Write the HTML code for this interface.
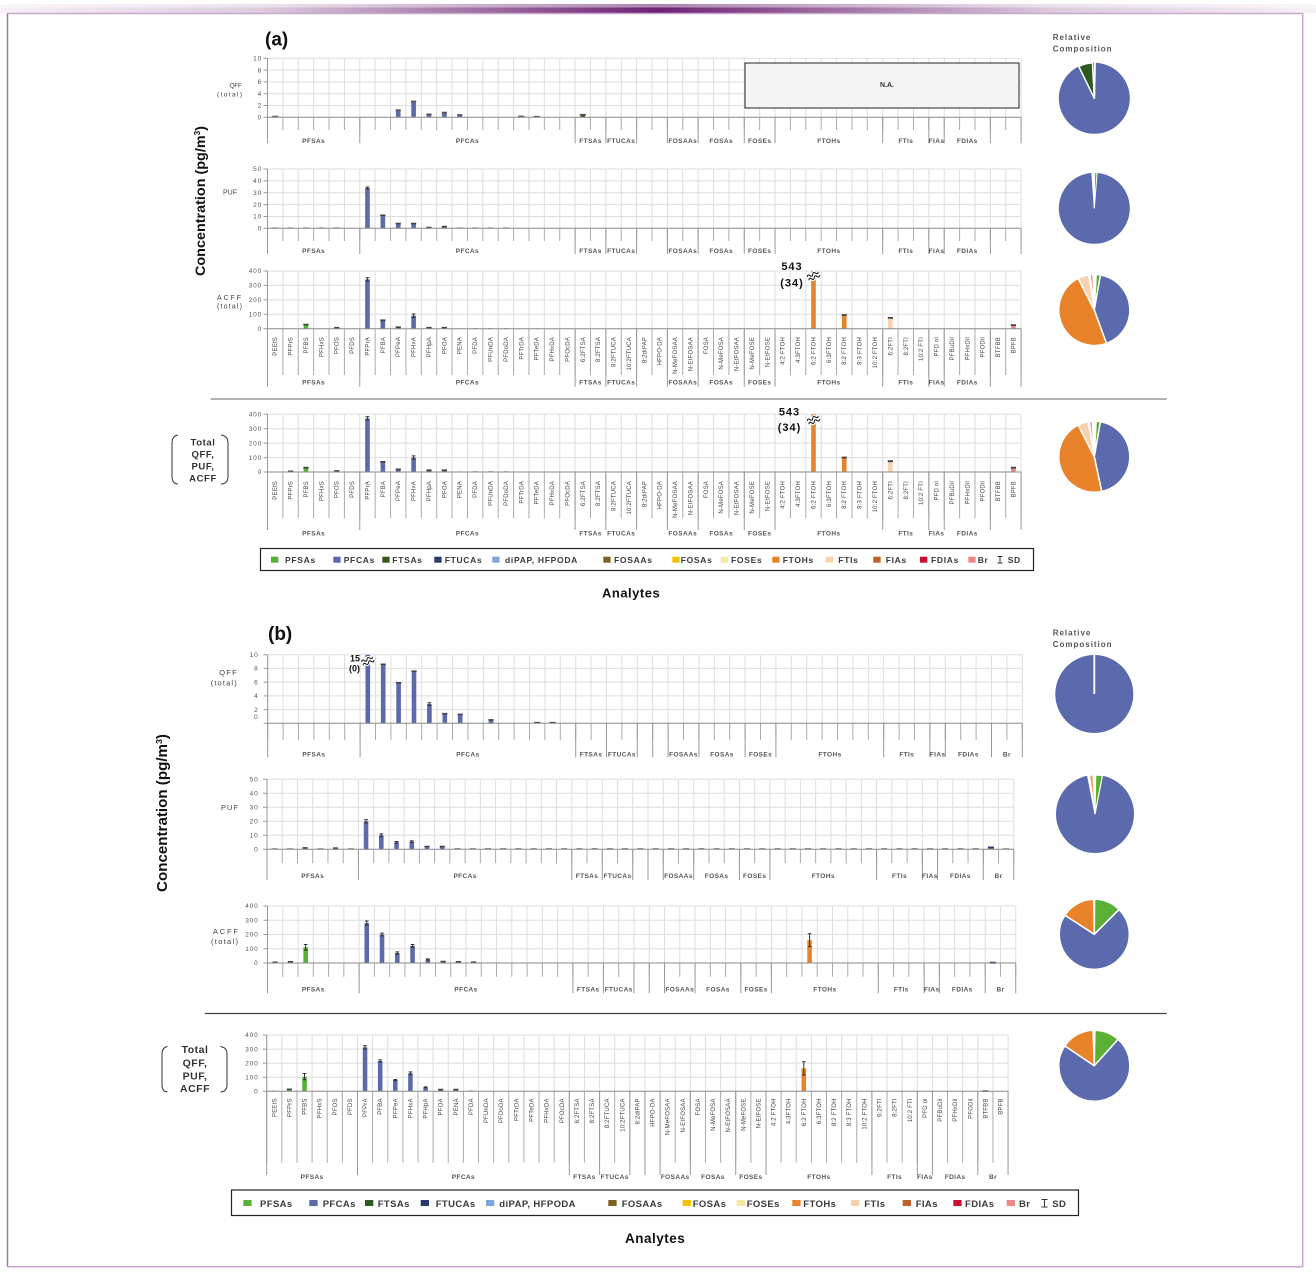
<!DOCTYPE html>
<html>
<head>
<meta charset="utf-8">
<style>
html,body{margin:0;padding:0;background:#fff;}
svg{display:block;}
</style>
</head>
<body>
<svg xmlns="http://www.w3.org/2000/svg" xmlns:xlink="http://www.w3.org/1999/xlink" width="1316" height="1278" viewBox="0 0 1316 1278" font-family="'Liberation Sans', sans-serif">
<defs>
<linearGradient id="tb" x1="0" y1="0" x2="1" y2="0">
<stop offset="0" stop-color="#f6f1f6"/><stop offset="0.2" stop-color="#dccbdd"/><stop offset="0.5" stop-color="#6d2372"/><stop offset="0.8" stop-color="#dccbdd"/><stop offset="1" stop-color="#f6f1f6"/>
</linearGradient>
<path id="ca" d="M0 0V1M6 0V1M20 0V1M22 0V1M24 0V1M26 0V1M28 0V1M31 0V1M33 0V1M40 0V1M43 0V1M44 0V1M47 0V1M49 0V1" vector-effect="non-scaling-stroke" stroke="#999" stroke-width="1" fill="none"/>
<path id="cb" d="M0 0V1M6 0V1M20 0V1M22 0V1M24 0V1M25 0V1M26 0V1M28 0V1M31 0V1M33 0V1M40 0V1M43 0V1M44 0V1M47 0V1M49 0V1" vector-effect="non-scaling-stroke" stroke="#999" stroke-width="1" fill="none"/>
</defs>
<rect x="0" y="0" width="1316" height="1278" fill="#fff"/>

<!-- top bar and frame -->
<rect x="0" y="4" width="1316" height="9.5" fill="url(#tb)"/>
<rect x="0" y="4" width="1316" height="3.5" fill="#fff" opacity="0.45"/>
<path d="M7.5 13.5H1302.7V1266.7H7.5" fill="none" stroke="#c8a8cc" stroke-width="1.5"/>
<path d="M7.5 13.5V1266.7" fill="none" stroke="#9a7a9e" stroke-width="1.5"/>

<!-- ===================== PANEL (a) ===================== -->
<text x="265" y="45.5" font-size="19" font-weight="bold" fill="#111">(a)</text>
<text transform="translate(205 201) rotate(-90)" text-anchor="middle" font-size="14" font-weight="bold" fill="#111" textLength="150" lengthAdjust="spacingAndGlyphs">Concentration (pg/m<tspan font-size="8" dy="-5">3</tspan><tspan dy="5">)</tspan></text>

<!-- A1 QFF -->
<line x1="267" y1="87.8" x2="1021.6" y2="87.8" stroke="#dedede" stroke-width="59" stroke-dasharray="1 14.38"/>
<path d="M267.5 58.3H1021.1M267.5 70.1H1021.1M267.5 81.9H1021.1M267.5 93.7H1021.1M267.5 105.5H1021.1" stroke="#dedede" fill="none"/>
<rect x="745" y="63" width="274" height="45" fill="#f4f4f4" stroke="#222" stroke-width="1"/>
<text x="887" y="87" text-anchor="middle" font-size="7" font-weight="bold" fill="#333">N.A.</text>
<g transform="translate(267.5 117.3) scale(15.38 -5.9)">
<g fill="#5b6aad"><rect x="8.35" width="0.3" height="1.2"/><rect x="9.35" width="0.3" height="2.7"/><rect x="10.35" width="0.3" height="0.5"/><rect x="11.35" width="0.3" height="0.8"/><rect x="12.35" width="0.3" height="0.4"/></g>
<rect x="20.35" width="0.3" height="0.45" fill="#2e5a1e"/>
<path d="M0.3 .12H.7M8.33 1.2H8.67M9.33 2.7H9.67M10.33 .5H10.67M11.33 .8H11.67M12.33 .4H12.67M16.3 .15H16.7M17.3 .1H17.7M20.3 .45H20.7" stroke="#555" stroke-width="1.6" fill="none" vector-effect="non-scaling-stroke"/>
</g>
<path d="M267.5 58.3V117.3M263.5 58.3H267.5M263.5 70.1H267.5M263.5 81.9H267.5M263.5 93.7H267.5M263.5 105.5H267.5M263.5 117.3H267.5" stroke="#999" fill="none"/>
<path d="M267.5 117.3H1021.1" stroke="#888" fill="none"/>
<line x1="267" y1="123.65" x2="1021.6" y2="123.65" stroke="#aaa" stroke-width="12.7" stroke-dasharray="1 14.38"/>
<use xlink:href="#ca" href="#ca" transform="translate(267.5 117.3) scale(15.38 26)"/>
<g text-anchor="end" font-size="6.5" fill="#555" letter-spacing=".8">
<text x="262" y="60.5">10</text><text x="262" y="72.3">8</text><text x="262" y="84.1">6</text><text x="262" y="95.9">4</text><text x="262" y="107.7">2</text><text x="262" y="119.5">0</text>
</g>
<g text-anchor="end" font-size="6.5" fill="#444">
<text x="242" y="87.5" textLength="12.5" lengthAdjust="spacing">QFF</text>
<text x="242" y="96.5" textLength="25" lengthAdjust="spacing">(total)</text>
</g>
<g text-anchor="middle" font-size="6.5" font-weight="bold" fill="#555" letter-spacing=".4">
<text x="313.6" y="143.2">PFSAs</text><text x="467.4" y="143.2">PFCAs</text><text x="590.5" y="143.2">FTSAs</text><text x="621.2" y="143.2">FTUCAs</text><text x="682.8" y="143.2">FOSAAs</text><text x="721.2" y="143.2">FOSAs</text><text x="759.7" y="143.2">FOSEs</text><text x="828.9" y="143.2">FTOHs</text><text x="905.8" y="143.2">FTIs</text><text x="936.5" y="143.2">FIAs</text><text x="967.3" y="143.2">FDIAs</text>
</g>

<!-- A2 PUF -->
<line x1="267" y1="198.65" x2="1021.6" y2="198.65" stroke="#dedede" stroke-width="59.3" stroke-dasharray="1 14.38"/>
<path d="M267.5 169H1021.1M267.5 180.86H1021.1M267.5 192.72H1021.1M267.5 204.58H1021.1M267.5 216.44H1021.1" stroke="#dedede" fill="none"/>
<g transform="translate(267.5 228.3) scale(15.38 -1.186)">
<g fill="#5b6aad"><rect x="6.35" width="0.3" height="34"/><rect x="7.35" width="0.3" height="11"/><rect x="8.35" width="0.3" height="4"/><rect x="9.35" width="0.3" height="4"/><rect x="10.35" width="0.3" height="0.6"/><rect x="11.35" width="0.3" height="1.5"/></g>
<path d="M6.38 34.8H6.62M6.5 34.8V33.2M6.38 33.2H6.62" stroke="#333" fill="none" vector-effect="non-scaling-stroke"/>
<path d="M7.33 11H7.67M8.33 4H8.67M9.33 4H9.67M10.33 .6H10.67M11.33 1.5H11.67" stroke="#444" stroke-width="1.6" fill="none" vector-effect="non-scaling-stroke"/>
<path d="M0.3 .3H.7M1.3 .3H1.7M2.3 .3H2.7M3.3 .3H3.7M4.3 .3H4.7M12.3 .3H12.7M13.3 .3H13.7M14.3 .3H14.7M15.3 .3H15.7" stroke="#888" stroke-width="1.2" fill="none" vector-effect="non-scaling-stroke"/>
</g>
<path d="M267.5 169V228.3M263.5 169H267.5M263.5 180.86H267.5M263.5 192.72H267.5M263.5 204.58H267.5M263.5 216.44H267.5M263.5 228.3H267.5" stroke="#999" fill="none"/>
<path d="M267.5 228.3H1021.1" stroke="#888" fill="none"/>
<line x1="267" y1="234.65" x2="1021.6" y2="234.65" stroke="#aaa" stroke-width="12.7" stroke-dasharray="1 14.38"/>
<use xlink:href="#ca" href="#ca" transform="translate(267.5 228.3) scale(15.38 25.7)"/>
<g text-anchor="end" font-size="6.5" fill="#555" letter-spacing=".8">
<text x="262" y="171.2">50</text><text x="262" y="183.1">40</text><text x="262" y="194.9">30</text><text x="262" y="206.8">20</text><text x="262" y="218.6">10</text><text x="262" y="230.5">0</text>
</g>
<text x="237" y="194.5" text-anchor="end" font-size="7" fill="#444" textLength="14" lengthAdjust="spacing">PUF</text>
<g text-anchor="middle" font-size="6.5" font-weight="bold" fill="#555" letter-spacing=".4">
<text x="313.6" y="253.2">PFSAs</text><text x="467.4" y="253.2">PFCAs</text><text x="590.5" y="253.2">FTSAs</text><text x="621.2" y="253.2">FTUCAs</text><text x="682.8" y="253.2">FOSAAs</text><text x="721.2" y="253.2">FOSAs</text><text x="759.7" y="253.2">FOSEs</text><text x="828.9" y="253.2">FTOHs</text><text x="905.8" y="253.2">FTIs</text><text x="936.5" y="253.2">FIAs</text><text x="967.3" y="253.2">FDIAs</text>
</g>

<!-- A3 ACFF -->
<line x1="267" y1="299.85" x2="1021.6" y2="299.85" stroke="#dedede" stroke-width="57.7" stroke-dasharray="1 14.38"/>
<path d="M267.5 271H1021.1M267.5 285.43H1021.1M267.5 299.85H1021.1M267.5 314.28H1021.1" stroke="#dedede" fill="none"/>
<g transform="translate(267.5 328.7) scale(15.38 -0.1443)">
<g fill="#5aaf35"><rect x="0.35" width="0.3" height="2"/><rect x="1.35" width="0.3" height="2"/><rect x="2.35" width="0.3" height="28"/><rect x="3.35" width="0.3" height="2"/><rect x="4.35" width="0.3" height="6"/></g>
<g fill="#5b6aad"><rect x="6.35" width="0.3" height="342"/><rect x="7.35" width="0.3" height="58"/><rect x="8.35" width="0.3" height="10"/><rect x="9.35" width="0.3" height="90"/><rect x="10.35" width="0.3" height="6"/><rect x="11.35" width="0.3" height="6"/><rect x="12.35" width="0.3" height="2"/><rect x="13.35" width="0.3" height="3"/><rect x="14.35" width="0.3" height="3"/><rect x="15.35" width="0.3" height="3"/></g>
<g fill="#a9b3dd"><rect x="16.35" width="0.3" height="2"/><rect x="17.35" width="0.3" height="2"/><rect x="18.35" width="0.3" height="2"/></g>
<g fill="#7ea6dc"><rect x="24.35" width="0.3" height="2"/><rect x="25.35" width="0.3" height="2"/></g>
<rect x="28.35" width="0.3" height="2" fill="#f2c300"/>
<g fill="#e8832a"><rect x="35.35" width="0.3" height="400"/><rect x="37.35" width="0.3" height="95"/></g>
<rect x="40.35" width="0.3" height="75" fill="#f8d2ae"/>
<rect x="48.35" width="0.3" height="25" fill="#ef8686"/>
<path d="M6.38 354H6.62M6.5 354V330M6.38 330H6.62M9.38 102H9.62M9.5 102V78M9.38 78H9.62" stroke="#333" fill="none" vector-effect="non-scaling-stroke"/>
<path d="M2.33 28H2.67M4.33 6H4.67M7.33 58H7.67M8.33 10H8.67M10.33 6H10.67M11.33 6H11.67M37.33 95H37.67M40.33 75H40.67M48.33 25H48.67" stroke="#444" stroke-width="1.8" fill="none" vector-effect="non-scaling-stroke"/>
</g>
<path d="M267.5 271V328.7M263.5 271H267.5M263.5 285.43H267.5M263.5 299.85H267.5M263.5 314.28H267.5M263.5 328.7H267.5" stroke="#999" fill="none"/>
<path d="M267.5 328.7H1021.1" stroke="#888" fill="none"/>
<line x1="267" y1="351.85" x2="1021.6" y2="351.85" stroke="#aaa" stroke-width="46.3" stroke-dasharray="1 14.38"/>
<use xlink:href="#ca" href="#ca" transform="translate(267.5 328.7) scale(15.38 58)"/>
<g transform="translate(813.5 276) rotate(-25)"><path d="M-6 -1.8q1.5 -2.5 3 0t3 0t3 0t3 0M-6 1.8q1.5 -2.5 3 0t3 0t3 0t3 0" stroke="#fff" stroke-width="3.2" fill="none"/><path d="M-6 -1.8q1.5 -2.5 3 0t3 0t3 0t3 0M-6 1.8q1.5 -2.5 3 0t3 0t3 0t3 0" stroke="#222" stroke-width="1.1" fill="none"/></g>
<g text-anchor="middle" font-size="11" font-weight="bold" fill="#111" letter-spacing="1">
<text x="792" y="270">543</text><text x="792" y="286.5">(34)</text>
</g>
<g text-anchor="end" font-size="6.5" fill="#555" letter-spacing=".8">
<text x="262" y="273.2">400</text><text x="262" y="287.6">300</text><text x="262" y="302">200</text><text x="262" y="316.5">100</text><text x="262" y="330.9">0</text>
</g>
<g text-anchor="end" font-size="7" fill="#444">
<text x="241" y="300" textLength="24" lengthAdjust="spacing">ACFF</text>
<text x="242" y="308.5" textLength="25" lengthAdjust="spacing">(total)</text>
</g>
<g transform="translate(277.2 337) rotate(-90)" text-anchor="end" font-size="6" fill="#444" letter-spacing=".2">
<text y="0">PEEtS</text><text y="15.38">PFPrS</text><text y="30.76">PFBS</text><text y="46.14">PFHxS</text><text y="61.52">PFOS</text><text y="76.9">PFDS</text><text y="92.28">PFPrA</text><text y="107.66">PFBA</text><text y="123.04">PFPeA</text><text y="138.42">PFHxA</text><text y="153.8">PFHpA</text><text y="169.18">PFOA</text><text y="184.56">PENA</text><text y="199.94">PFDA</text><text y="215.32">PFUnDA</text><text y="230.7">PFDoDA</text><text y="246.08">PFTrDA</text><text y="261.46">PFTeDA</text><text y="276.84">PFHxDA</text><text y="292.22">PFOcDA</text><text y="307.6">6:2FTSA</text><text y="322.98">8:2FTSA</text><text y="338.36">8:2FTUCA</text><text y="353.74">10:2FTUCA</text><text y="369.12">8:2diPAP</text><text y="384.5">HFPO-DA</text><text y="399.88">N-MeFOSAA</text><text y="415.26">N-EtFOSAA</text><text y="430.64">FOSA</text><text y="446.02">N-MeFOSA</text><text y="461.4">N-EtFOSAA</text><text y="476.78">N-MeFOSE</text><text y="492.16">N-EtFOSE</text><text y="507.54">4:2 FTOH</text><text y="522.92">4:3FTOH</text><text y="538.3">6:2 FTOH</text><text y="553.68">6:3FTOH</text><text y="569.06">8:2 FTOH</text><text y="584.44">8:3 FTOH</text><text y="599.82">10:2 FTOH</text><text y="615.2">6:2FTI</text><text y="630.58">8:2FTI</text><text y="645.96">10:2 FTI</text><text y="661.34">PFD ol</text><text y="676.72">PFBuDil</text><text y="692.1">PFHxDil</text><text y="707.48">PFODil</text><text y="722.86">BTFBB</text><text y="738.24">BPFB</text>
</g>
<g text-anchor="middle" font-size="6.5" font-weight="bold" fill="#555" letter-spacing=".4">
<text x="313.6" y="384.5">PFSAs</text><text x="467.4" y="384.5">PFCAs</text><text x="590.5" y="384.5">FTSAs</text><text x="621.2" y="384.5">FTUCAs</text><text x="682.8" y="384.5">FOSAAs</text><text x="721.2" y="384.5">FOSAs</text><text x="759.7" y="384.5">FOSEs</text><text x="828.9" y="384.5">FTOHs</text><text x="905.8" y="384.5">FTIs</text><text x="936.5" y="384.5">FIAs</text><text x="967.3" y="384.5">FDIAs</text>
</g>

<!-- separator a -->
<path d="M210.7 399H1166.7" stroke="#999" stroke-width="1.6" fill="none"/>

<!-- A4 Total -->
<line x1="267" y1="443.15" x2="1021.6" y2="443.15" stroke="#dedede" stroke-width="57.7" stroke-dasharray="1 14.38"/>
<path d="M267.5 414.3H1021.1M267.5 428.73H1021.1M267.5 443.15H1021.1M267.5 457.58H1021.1" stroke="#dedede" fill="none"/>
<g transform="translate(267.5 472) scale(15.38 -0.1443)">
<g fill="#5aaf35"><rect x="0.35" width="0.3" height="3"/><rect x="1.35" width="0.3" height="4"/><rect x="2.35" width="0.3" height="30"/><rect x="3.35" width="0.3" height="3"/><rect x="4.35" width="0.3" height="7"/></g>
<g fill="#5b6aad"><rect x="6.35" width="0.3" height="372"/><rect x="7.35" width="0.3" height="70"/><rect x="8.35" width="0.3" height="18"/><rect x="9.35" width="0.3" height="100"/><rect x="10.35" width="0.3" height="12"/><rect x="11.35" width="0.3" height="12"/><rect x="12.35" width="0.3" height="4"/><rect x="13.35" width="0.3" height="5"/><rect x="14.35" width="0.3" height="5"/><rect x="15.35" width="0.3" height="5"/></g>
<g fill="#a9b3dd"><rect x="16.35" width="0.3" height="3"/><rect x="17.35" width="0.3" height="3"/><rect x="18.35" width="0.3" height="3"/><rect x="19.35" width="0.3" height="3"/></g>
<rect x="20.35" width="0.3" height="3" fill="#2e5a1e"/>
<g fill="#7ea6dc"><rect x="24.35" width="0.3" height="3"/><rect x="25.35" width="0.3" height="3"/></g>
<rect x="28.35" width="0.3" height="3" fill="#f2c300"/>
<g fill="#e8832a"><rect x="35.35" width="0.3" height="400"/><rect x="37.35" width="0.3" height="100"/></g>
<rect x="40.35" width="0.3" height="75" fill="#f8d2ae"/>
<rect x="48.35" width="0.3" height="30" fill="#ef8686"/>
<path d="M6.38 384H6.62M6.5 384V360M6.38 360H6.62M9.38 112H9.62M9.5 112V88M9.38 88H9.62" stroke="#333" fill="none" vector-effect="non-scaling-stroke"/>
<path d="M1.33 4H1.67M2.33 30H2.67M4.33 7H4.67M7.33 70H7.67M8.33 18H8.67M10.33 12H10.67M11.33 12H11.67M37.33 100H37.67M40.33 75H40.67M48.33 30H48.67" stroke="#444" stroke-width="1.8" fill="none" vector-effect="non-scaling-stroke"/>
</g>
<path d="M267.5 414.3V472M263.5 414.3H267.5M263.5 428.73H267.5M263.5 443.15H267.5M263.5 457.58H267.5M263.5 472H267.5" stroke="#999" fill="none"/>
<path d="M267.5 472H1021.1" stroke="#888" fill="none"/>
<line x1="267" y1="495.15" x2="1021.6" y2="495.15" stroke="#aaa" stroke-width="46.3" stroke-dasharray="1 14.38"/>
<use xlink:href="#ca" href="#ca" transform="translate(267.5 472) scale(15.38 58)"/>
<g transform="translate(813.5 420) rotate(-25)"><path d="M-6 -1.8q1.5 -2.5 3 0t3 0t3 0t3 0M-6 1.8q1.5 -2.5 3 0t3 0t3 0t3 0" stroke="#fff" stroke-width="3.2" fill="none"/><path d="M-6 -1.8q1.5 -2.5 3 0t3 0t3 0t3 0M-6 1.8q1.5 -2.5 3 0t3 0t3 0t3 0" stroke="#222" stroke-width="1.1" fill="none"/></g>
<g text-anchor="middle" font-size="11" font-weight="bold" fill="#111" letter-spacing="1">
<text x="789.5" y="415.5">543</text><text x="789.5" y="431">(34)</text>
</g>
<g text-anchor="end" font-size="6.5" fill="#555" letter-spacing=".8">
<text x="262" y="416.5">400</text><text x="262" y="430.9">300</text><text x="262" y="445.4">200</text><text x="262" y="459.8">100</text><text x="262" y="474.2">0</text>
</g>
<g text-anchor="middle" font-size="9.5" font-weight="bold" fill="#333" letter-spacing=".6">
<text x="203" y="445.5">Total</text><text x="203" y="457.5">QFF,</text><text x="203" y="469.5">PUF,</text><text x="203" y="481.5">ACFF</text>
</g>
<path d="M178 435Q172 436 172 443V476Q172 484 178 484M221 435Q228 436 228 443V476Q228 484 221 484" stroke="#333" stroke-width="1" fill="none"/>
<g transform="translate(277.2 481) rotate(-90)" text-anchor="end" font-size="6" fill="#444" letter-spacing=".2">
<text y="0">PEEtS</text><text y="15.38">PFPrS</text><text y="30.76">PFBS</text><text y="46.14">PFHxS</text><text y="61.52">PFOS</text><text y="76.9">PFDS</text><text y="92.28">PFPrA</text><text y="107.66">PFBA</text><text y="123.04">PFPeA</text><text y="138.42">PFHxA</text><text y="153.8">PFHpA</text><text y="169.18">PFOA</text><text y="184.56">PENA</text><text y="199.94">PFDA</text><text y="215.32">PFUnDA</text><text y="230.7">PFDoDA</text><text y="246.08">PFTrDA</text><text y="261.46">PFTeDA</text><text y="276.84">PFHxDA</text><text y="292.22">PFOcDA</text><text y="307.6">6:2FTSA</text><text y="322.98">8:2FTSA</text><text y="338.36">8:2FTUCA</text><text y="353.74">10:2FTUCA</text><text y="369.12">8:2diPAP</text><text y="384.5">HFPO-DA</text><text y="399.88">N-MeFOSAA</text><text y="415.26">N-EtFOSAA</text><text y="430.64">FOSA</text><text y="446.02">N-MeFOSA</text><text y="461.4">N-EtFOSAA</text><text y="476.78">N-MeFOSE</text><text y="492.16">N-EtFOSE</text><text y="507.54">4:2 FTOH</text><text y="522.92">4:3FTOH</text><text y="538.3">6:2 FTOH</text><text y="553.68">6:3FTOH</text><text y="569.06">8:2 FTOH</text><text y="584.44">8:3 FTOH</text><text y="599.82">10:2 FTOH</text><text y="615.2">6:2FTI</text><text y="630.58">8:2FTI</text><text y="645.96">10:2 FTI</text><text y="661.34">PFD ol</text><text y="676.72">PFBuDil</text><text y="692.1">PFHxDil</text><text y="707.48">PFODil</text><text y="722.86">BTFBB</text><text y="738.24">BPFB</text>
</g>
<g text-anchor="middle" font-size="6.5" font-weight="bold" fill="#555" letter-spacing=".4">
<text x="313.6" y="535.5">PFSAs</text><text x="467.4" y="535.5">PFCAs</text><text x="590.5" y="535.5">FTSAs</text><text x="621.2" y="535.5">FTUCAs</text><text x="682.8" y="535.5">FOSAAs</text><text x="721.2" y="535.5">FOSAs</text><text x="759.7" y="535.5">FOSEs</text><text x="828.9" y="535.5">FTOHs</text><text x="905.8" y="535.5">FTIs</text><text x="936.5" y="535.5">FIAs</text><text x="967.3" y="535.5">FDIAs</text>
</g>

<!-- legend a -->
<rect x="260.5" y="548.5" width="773" height="22" fill="#fff" stroke="#222" stroke-width="1.2"/>
<rect x="271" y="556.7" width="7.3" height="6" fill="#5aaf35"/>
<rect x="333.3" y="556.7" width="7.3" height="6" fill="#5b6aad"/>
<rect x="382.3" y="556.7" width="7.3" height="6" fill="#2e5a1e"/>
<rect x="434.3" y="556.7" width="7.3" height="6" fill="#2a3a6e"/>
<rect x="492.3" y="556.7" width="7.3" height="6" fill="#7ea6dc"/>
<rect x="603.3" y="556.7" width="7.3" height="6" fill="#7d5f1e"/>
<rect x="672.3" y="556.7" width="7.3" height="6" fill="#f2c300"/>
<rect x="720.7" y="556.7" width="7.3" height="6" fill="#f8e9a0"/>
<rect x="772.3" y="556.7" width="7.3" height="6" fill="#e8832a"/>
<rect x="825.7" y="556.7" width="7.3" height="6" fill="#f8d2ae"/>
<rect x="873.3" y="556.7" width="7.3" height="6" fill="#c15f28"/>
<rect x="920" y="556.7" width="7.3" height="6" fill="#c8102e"/>
<rect x="968.3" y="556.7" width="7.3" height="6" fill="#ef8686"/>
<path d="M997.5 556.5H1002.5M1000 556.5V563M997.5 563H1002.5" stroke="#333" fill="none"/>
<g font-size="8.5" font-weight="bold" fill="#3a3a3a" letter-spacing=".7">
<text x="285" y="562.8">PFSAs</text><text x="343.7" y="562.8">PFCAs</text><text x="392.3" y="562.8">FTSAs</text><text x="444.7" y="562.8">FTUCAs</text><text x="505" y="562.8">diPAP, HFPODA</text><text x="614" y="562.8">FOSAAs</text><text x="680.7" y="562.8">FOSAs</text><text x="731" y="562.8">FOSEs</text><text x="782.7" y="562.8">FTOHs</text><text x="838.3" y="562.8">FTIs</text><text x="885.7" y="562.8">FIAs</text><text x="931" y="562.8">FDIAs</text><text x="977.7" y="562.8">Br</text><text x="1007.7" y="562.8">SD</text>
</g>
<text x="602" y="597.5" font-size="13" font-weight="bold" fill="#111" letter-spacing=".5">Analytes</text>

<!-- pies a -->
<g font-size="8" font-weight="bold" fill="#555" letter-spacing="1">
<text x="1052.7" y="40">Relative</text><text x="1052.7" y="51.5">Composition</text>
</g>
<circle cx="1094.3" cy="98.3" r="35.5" fill="#5b6aad"/>
<path d="M1094.3 98.3L1078.74 66.39A35.5 35.5 0 0 1 1092.44 62.85Z" fill="#2e5a1e" stroke="#fff" stroke-width="1.5" stroke-linejoin="round"/>
<path d="M1094.3 98.3L1095 62.5" stroke="#fff" stroke-width="1.8"/>

<circle cx="1094.3" cy="208.3" r="35.5" fill="#5b6aad"/>
<path d="M1094.3 208.3L1091.82 172.89A35.5 35.5 0 0 1 1094.61 172.8Z" fill="#fff" stroke="#fff" stroke-width="1"/>
<path d="M1094.3 208.3L1094.61 172.8A35.5 35.5 0 0 1 1097.09 172.91Z" fill="#5aaf35" stroke="#fff" stroke-width="1"/>

<g stroke="#fff" stroke-width="1.5" stroke-linejoin="round">
<path d="M1094.3 310L1096.16 274.55A35.5 35.5 0 0 1 1100.46 275.04Z" fill="#5aaf35"/>
<path d="M1094.3 310L1100.46 275.04A35.5 35.5 0 0 1 1106.44 343.36Z" fill="#5b6aad"/>
<path d="M1094.3 310L1106.44 343.36A35.5 35.5 0 0 1 1078.18 278.37Z" fill="#e8832a"/>
<path d="M1094.3 310L1078.18 278.37A35.5 35.5 0 0 1 1088.75 274.94Z" fill="#f8d2ae"/>
<path d="M1094.3 310L1089.97 274.77A35.5 35.5 0 0 1 1093.06 274.52Z" fill="#ef8686"/>

<path d="M1094.3 456.7L1096.16 421.25A35.5 35.5 0 0 1 1100.46 421.74Z" fill="#5aaf35"/>
<path d="M1094.3 456.7L1100.46 421.74A35.5 35.5 0 0 1 1101.68 491.42Z" fill="#5b6aad"/>
<path d="M1094.3 456.7L1101.68 491.42A35.5 35.5 0 0 1 1078.18 425.07Z" fill="#e8832a"/>
<path d="M1094.3 456.7L1078.18 425.07A35.5 35.5 0 0 1 1088.14 421.74Z" fill="#f8d2ae"/>
<path d="M1094.3 456.7L1089.36 421.54A35.5 35.5 0 0 1 1092.44 421.25Z" fill="#ef8686"/>
</g>

<!-- ===================== PANEL (b) ===================== -->
<text x="268" y="640" font-size="19" font-weight="bold" fill="#111">(b)</text>
<text transform="translate(167 813) rotate(-90)" text-anchor="middle" font-size="14.5" font-weight="bold" fill="#111" textLength="158" lengthAdjust="spacingAndGlyphs">Concentration (pg/m<tspan font-size="8.5" dy="-5">3</tspan><tspan dy="5">)</tspan></text>

<!-- B1 QFF -->
<line x1="267.2" y1="689" x2="1022.8" y2="689" stroke="#dedede" stroke-width="68.6" stroke-dasharray="1 14.4"/>
<path d="M267.7 654.7H1022.3M267.7 668.42H1022.3M267.7 682.14H1022.3M267.7 695.86H1022.3M267.7 709.58H1022.3" stroke="#dedede" fill="none"/>
<g transform="translate(267.7 723.3) scale(15.4 -6.86)">
<g fill="#5b6aad"><rect x="6.35" width="0.3" height="10"/><rect x="7.35" width="0.3" height="8.6"/><rect x="8.35" width="0.3" height="5.9"/><rect x="9.35" width="0.3" height="7.6"/><rect x="10.35" width="0.3" height="2.8"/><rect x="11.35" width="0.3" height="1.4"/><rect x="12.35" width="0.3" height="1.3"/><rect x="14.35" width="0.3" height="0.5"/></g>
<path d="M10.38 3H10.62M10.5 3V2.6M10.38 2.6H10.62" stroke="#333" fill="none" vector-effect="non-scaling-stroke"/>
<path d="M7.33 8.6H7.67M8.33 5.9H8.67M9.33 7.6H9.67M11.33 1.4H11.67M12.33 1.3H12.67M14.33 .5H14.67M17.3 .1H17.7M18.3 .1H18.7" stroke="#444" stroke-width="1.6" fill="none" vector-effect="non-scaling-stroke"/>
</g>
<path d="M267.7 654.7V723.3M263.7 654.7H267.7M263.7 668.42H267.7M263.7 682.14H267.7M263.7 695.86H267.7M263.7 709.58H267.7M263.7 723.3H267.7" stroke="#999" fill="none"/>
<path d="M267.7 723.3H1022.3" stroke="#888" fill="none"/>
<line x1="267.2" y1="731.65" x2="1022.8" y2="731.65" stroke="#aaa" stroke-width="16.7" stroke-dasharray="1 14.4"/>
<use xlink:href="#cb" href="#cb" transform="translate(267.7 723.3) scale(15.4 34)"/>
<g transform="translate(367.8 661) rotate(-25)"><path d="M-6 -1.8q1.5 -2.5 3 0t3 0t3 0t3 0M-6 1.8q1.5 -2.5 3 0t3 0t3 0t3 0" stroke="#fff" stroke-width="3.2" fill="none"/><path d="M-6 -1.8q1.5 -2.5 3 0t3 0t3 0t3 0M-6 1.8q1.5 -2.5 3 0t3 0t3 0t3 0" stroke="#222" stroke-width="1.1" fill="none"/></g>
<g text-anchor="end" font-size="9" font-weight="bold" fill="#111">
<text x="360" y="661.5">15</text><text x="360" y="671.5">(0)</text>
</g>
<g text-anchor="end" font-size="6.5" fill="#555" letter-spacing=".8">
<text x="258.5" y="656.9">10</text><text x="258.5" y="670.6">8</text><text x="258.5" y="684.3">6</text><text x="258.5" y="698.1">4</text><text x="258.5" y="711.8">2</text><text x="258.5" y="719.2">0</text>
</g>
<g text-anchor="end" font-size="7.5" fill="#444">
<text x="236.7" y="675" textLength="17.5" lengthAdjust="spacing">QFF</text>
<text x="236.7" y="685.5" textLength="26" lengthAdjust="spacing">(total)</text>
</g>
<g text-anchor="middle" font-size="6.5" font-weight="bold" fill="#555" letter-spacing=".4">
<text x="313.9" y="756.5">PFSAs</text><text x="467.9" y="756.5">PFCAs</text><text x="591.1" y="756.5">FTSAs</text><text x="621.9" y="756.5">FTUCAs</text><text x="683.5" y="756.5">FOSAAs</text><text x="722" y="756.5">FOSAs</text><text x="760.5" y="756.5">FOSEs</text><text x="830" y="756.5">FTOHs</text><text x="906.8" y="756.5">FTIs</text><text x="937.6" y="756.5">FIAs</text><text x="968.4" y="756.5">FDIAs</text><text x="1006.9" y="756.5">Br</text>
</g>

<!-- B2 PUF -->
<line x1="266.5" y1="814.3" x2="1014.3" y2="814.3" stroke="#dedede" stroke-width="70" stroke-dasharray="1 14.24"/>
<path d="M267 779.3H1013.8M267 793.3H1013.8M267 807.3H1013.8M267 821.3H1013.8M267 835.3H1013.8" stroke="#dedede" fill="none"/>
<g transform="translate(267 849.3) scale(15.24 -1.4)">
<rect x="2.35" width="0.3" height="1" fill="#5aaf35"/>
<g fill="#5b6aad"><rect x="6.35" width="0.3" height="20"/><rect x="7.35" width="0.3" height="10"/><rect x="8.35" width="0.3" height="5"/><rect x="9.35" width="0.3" height="5.5"/><rect x="10.35" width="0.3" height="2"/><rect x="11.35" width="0.3" height="2"/></g>
<path d="M6.38 21.2H6.62M6.5 21.2V18.8M6.38 18.8H6.62M7.38 11H7.62M7.5 11V9M7.38 9H7.62M8.38 5.6H8.62M8.5 5.6V4.4M8.38 4.4H8.62M9.38 6.1H9.62M9.5 6.1V4.9M9.38 4.9H9.62" stroke="#333" fill="none" vector-effect="non-scaling-stroke"/>
<path d="M2.33 1H2.67M4.33 .8H4.67M10.33 2H10.67M11.33 2H11.67" stroke="#444" stroke-width="1.6" fill="none" vector-effect="non-scaling-stroke"/>
<path d="M0.3 .3H.7M1.3 .3H1.7M3.3 .3H3.7M5.3 .3H5.7M48.3 .3H48.7" stroke="#777" stroke-width="1.2" fill="none" vector-effect="non-scaling-stroke"/>
<path d="M47.3 1.2H47.7" stroke="#2a3a6e" stroke-width="2.2" fill="none" vector-effect="non-scaling-stroke"/>
</g>
<line x1="454.45" y1="848.7" x2="983.3" y2="848.7" stroke="#777" stroke-width="1.2" stroke-dasharray="6.1 9.14"/>
<path d="M267 779.3V849.3M263 779.3H267M263 793.3H267M263 807.3H267M263 821.3H267M263 835.3H267M263 849.3H267" stroke="#999" fill="none"/>
<path d="M267 849.3H1013.8" stroke="#888" fill="none"/>
<line x1="266.5" y1="856.3" x2="1014.3" y2="856.3" stroke="#aaa" stroke-width="14" stroke-dasharray="1 14.24"/>
<use xlink:href="#cb" href="#cb" transform="translate(267 849.3) scale(15.24 30.7)"/>
<g text-anchor="end" font-size="6.5" fill="#555" letter-spacing=".8">
<text x="258.5" y="781.5">50</text><text x="258.5" y="795.5">40</text><text x="258.5" y="809.5">30</text><text x="258.5" y="823.5">20</text><text x="258.5" y="837.5">10</text><text x="258.5" y="851.5">0</text>
</g>
<text x="238" y="810" text-anchor="end" font-size="7.5" fill="#444" textLength="17" lengthAdjust="spacing">PUF</text>
<g text-anchor="middle" font-size="6.5" font-weight="bold" fill="#555" letter-spacing=".4">
<text x="312.7" y="878.2">PFSAs</text><text x="465.1" y="878.2">PFCAs</text><text x="587" y="878.2">FTSAs</text><text x="617.5" y="878.2">FTUCAs</text><text x="678.5" y="878.2">FOSAAs</text><text x="716.6" y="878.2">FOSAs</text><text x="754.7" y="878.2">FOSEs</text><text x="823.3" y="878.2">FTOHs</text><text x="899.5" y="878.2">FTIs</text><text x="929.9" y="878.2">FIAs</text><text x="960.4" y="878.2">FDIAs</text><text x="998.5" y="878.2">Br</text>
</g>

<!-- B3 ACFF -->
<line x1="267" y1="934.5" x2="1016.2" y2="934.5" stroke="#dedede" stroke-width="57" stroke-dasharray="1 14.27"/>
<path d="M267.5 906H1015.7M267.5 920.25H1015.7M267.5 934.5H1015.7M267.5 948.75H1015.7" stroke="#dedede" fill="none"/>
<g transform="translate(267.5 963) scale(15.27 -0.1425)">
<g fill="#5aaf35"><rect x="0.35" width="0.3" height="5"/><rect x="1.35" width="0.3" height="8"/><rect x="2.35" width="0.3" height="110"/><rect x="3.35" width="0.3" height="3"/><rect x="4.35" width="0.3" height="2"/></g>
<g fill="#5b6aad"><rect x="6.35" width="0.3" height="280"/><rect x="7.35" width="0.3" height="200"/><rect x="8.35" width="0.3" height="70"/><rect x="9.35" width="0.3" height="120"/><rect x="10.35" width="0.3" height="25"/><rect x="11.35" width="0.3" height="10"/><rect x="12.35" width="0.3" height="8"/><rect x="13.35" width="0.3" height="6"/><rect x="14.35" width="0.3" height="4"/><rect x="15.35" width="0.3" height="3"/><rect x="16.35" width="0.3" height="2"/><rect x="17.35" width="0.3" height="2"/></g>
<rect x="24.35" width="0.3" height="2" fill="#7ea6dc"/>
<rect x="35.35" width="0.3" height="160" fill="#e8832a"/>
<path d="M2.38 130H2.62M2.5 130V90M2.38 90H2.62M6.38 295H6.62M6.5 295V265M6.38 265H6.62M7.38 210H7.62M7.5 210V190M7.38 190H7.62M8.38 78H8.62M8.5 78V62M8.38 62H8.62M9.38 130H9.62M9.5 130V110M9.38 110H9.62M10.38 29H10.62M10.5 29V21M10.38 21H10.62M35.38 205H35.62M35.5 205V115M35.38 115H35.62" stroke="#333" fill="none" vector-effect="non-scaling-stroke"/>
<path d="M0.33 5H0.67M1.33 8H1.67M11.33 10H11.67M12.33 8H12.67M13.33 6H13.67" stroke="#444" stroke-width="1.6" fill="none" vector-effect="non-scaling-stroke"/>
<path d="M47.3 2H47.7" stroke="#2a3a6e" stroke-width="2" fill="none" vector-effect="non-scaling-stroke"/>
</g>
<path d="M267.5 906V963M263.5 906H267.5M263.5 920.25H267.5M263.5 934.5H267.5M263.5 948.75H267.5M263.5 963H267.5" stroke="#999" fill="none"/>
<path d="M267.5 963H1015.7" stroke="#888" fill="none"/>
<line x1="267" y1="969.85" x2="1016.2" y2="969.85" stroke="#aaa" stroke-width="13.7" stroke-dasharray="1 14.27"/>
<use xlink:href="#cb" href="#cb" transform="translate(267.5 963) scale(15.27 30.3)"/>
<g text-anchor="end" font-size="6.5" fill="#555" letter-spacing=".8">
<text x="258.5" y="908.2">400</text><text x="258.5" y="922.5">300</text><text x="258.5" y="936.7">200</text><text x="258.5" y="951">100</text><text x="258.5" y="965.2">0</text>
</g>
<g text-anchor="end" font-size="7.5" fill="#444">
<text x="238" y="934" textLength="25" lengthAdjust="spacing">ACFF</text>
<text x="238" y="944" textLength="27" lengthAdjust="spacing">(total)</text>
</g>
<g text-anchor="middle" font-size="6.5" font-weight="bold" fill="#555" letter-spacing=".4">
<text x="313.3" y="991.5">PFSAs</text><text x="466" y="991.5">PFCAs</text><text x="588.2" y="991.5">FTSAs</text><text x="618.7" y="991.5">FTUCAs</text><text x="679.8" y="991.5">FOSAAs</text><text x="718" y="991.5">FOSAs</text><text x="756.1" y="991.5">FOSEs</text><text x="824.9" y="991.5">FTOHs</text><text x="901.2" y="991.5">FTIs</text><text x="931.7" y="991.5">FIAs</text><text x="962.3" y="991.5">FDIAs</text><text x="1000.5" y="991.5">Br</text>
</g>

<!-- separator b -->
<path d="M205 1013.5H1166.7" stroke="#444" stroke-width="1.2" fill="none"/>

<!-- B4 Total -->
<line x1="266.2" y1="1063.15" x2="1008.6" y2="1063.15" stroke="#dedede" stroke-width="56.3" stroke-dasharray="1 14.13"/>
<path d="M266.7 1035H1008.1M266.7 1049.08H1008.1M266.7 1063.15H1008.1M266.7 1077.23H1008.1" stroke="#dedede" fill="none"/>
<g transform="translate(266.7 1091.3) scale(15.13 -0.1408)">
<g fill="#5aaf35"><rect x="0.35" width="0.3" height="5"/><rect x="1.35" width="0.3" height="14"/><rect x="2.35" width="0.3" height="104"/></g>
<g fill="#5b6aad"><rect x="6.35" width="0.3" height="312"/><rect x="7.35" width="0.3" height="215"/><rect x="8.35" width="0.3" height="80"/><rect x="9.35" width="0.3" height="128"/><rect x="10.35" width="0.3" height="28"/><rect x="11.35" width="0.3" height="12"/><rect x="12.35" width="0.3" height="12"/><rect x="13.35" width="0.3" height="6"/><rect x="14.35" width="0.3" height="2"/><rect x="15.35" width="0.3" height="2"/></g>
<rect x="35.35" width="0.3" height="163" fill="#e8832a"/>
<path d="M2.38 126H2.62M2.5 126V82M2.38 82H2.62M6.38 324H6.62M6.5 324V300M6.38 300H6.62M7.38 223H7.62M7.5 223V207M7.38 207H7.62M8.38 84H8.62M8.5 84V76M8.38 76H8.62M9.38 138H9.62M9.5 138V118M9.38 118H9.62M10.38 31H10.62M10.5 31V25M10.38 25H10.62M35.38 210H35.62M35.5 210V116M35.38 116H35.62" stroke="#333" fill="none" vector-effect="non-scaling-stroke"/>
<path d="M1.33 14H1.67M11.33 12H11.67M12.33 12H12.67M47.3 1H47.7" stroke="#444" stroke-width="1.6" fill="none" vector-effect="non-scaling-stroke"/>
</g>
<path d="M266.7 1035V1091.3M262.7 1035H266.7M262.7 1049.08H266.7M262.7 1063.15H266.7M262.7 1077.23H266.7M262.7 1091.3H266.7" stroke="#999" fill="none"/>
<path d="M266.7 1091.3H1008.1" stroke="#888" fill="none"/>
<line x1="266.2" y1="1127" x2="1008.6" y2="1127" stroke="#aaa" stroke-width="71.4" stroke-dasharray="1 14.13"/>
<use xlink:href="#cb" href="#cb" transform="translate(266.7 1091.3) scale(15.13 83.7)"/>
<g text-anchor="end" font-size="6.5" fill="#555" letter-spacing=".8">
<text x="258.5" y="1037.2">400</text><text x="258.5" y="1051.3">300</text><text x="258.5" y="1065.4">200</text><text x="258.5" y="1079.4">100</text><text x="258.5" y="1093.5">0</text>
</g>
<g text-anchor="middle" font-size="10.5" font-weight="bold" fill="#333" letter-spacing=".5">
<text x="195" y="1053">Total</text><text x="195" y="1066.5">QFF,</text><text x="195" y="1079.5">PUF,</text><text x="195" y="1092">ACFF</text>
</g>
<path d="M167.5 1046.5Q162 1047.5 162 1054V1085Q162 1091.5 167.5 1092M220.5 1046.5Q227 1047.5 227 1054V1085Q227 1091.5 220.5 1092" stroke="#333" stroke-width="1" fill="none"/>
<g transform="translate(276.3 1098.3) rotate(-90)" text-anchor="end" font-size="6" fill="#444" letter-spacing=".2">
<text y="0">PEEtS</text><text y="15.13">PFPrS</text><text y="30.26">PFBS</text><text y="45.39">PFHxS</text><text y="60.52">PFOS</text><text y="75.65">PFDS</text><text y="90.78">PFPrA</text><text y="105.91">PFBA</text><text y="121.04">PFPeA</text><text y="136.17">PFHxA</text><text y="151.3">PFHpA</text><text y="166.43">PFOA</text><text y="181.56">PENA</text><text y="196.69">PFDA</text><text y="211.82">PFUnDA</text><text y="226.95">PFDoDA</text><text y="242.08">PFTrDA</text><text y="257.21">PFTeDA</text><text y="272.34">PFHxDA</text><text y="287.47">PFOcDA</text><text y="302.6">6:2FTSA</text><text y="317.73">8:2FTSA</text><text y="332.86">8:2FTUCA</text><text y="347.99">10:2FTUCA</text><text y="363.12">8:2diPAP</text><text y="378.25">HFPO-DA</text><text y="393.38">N-MeFOSAA</text><text y="408.51">N-EtFOSAA</text><text y="423.64">FOSA</text><text y="438.77">N-MeFOSA</text><text y="453.9">N-EtFOSAA</text><text y="469.03">N-MeFOSE</text><text y="484.16">N-EtFOSE</text><text y="499.29">4:2 FTOH</text><text y="514.42">4:3FTOH</text><text y="529.55">6:2 FTOH</text><text y="544.68">6:3FTOH</text><text y="559.81">8:2 FTOH</text><text y="574.94">8:3 FTOH</text><text y="590.07">10:2 FTOH</text><text y="605.2">6:2FTI</text><text y="620.33">8:2FTI</text><text y="635.46">10:2 FTI</text><text y="650.59">PFD ol</text><text y="665.72">PFBuDil</text><text y="680.85">PFHxDil</text><text y="695.98">PFODil</text><text y="711.11">BTFBB</text><text y="726.24">BPFB</text>
</g>
<g text-anchor="middle" font-size="6.5" font-weight="bold" fill="#555" letter-spacing=".4">
<text x="312.1" y="1178.9">PFSAs</text><text x="463.4" y="1178.9">PFCAs</text><text x="584.4" y="1178.9">FTSAs</text><text x="614.7" y="1178.9">FTUCAs</text><text x="675.2" y="1178.9">FOSAAs</text><text x="713" y="1178.9">FOSAs</text><text x="750.9" y="1178.9">FOSEs</text><text x="818.9" y="1178.9">FTOHs</text><text x="894.6" y="1178.9">FTIs</text><text x="924.9" y="1178.9">FIAs</text><text x="955.1" y="1178.9">FDIAs</text><text x="993" y="1178.9">Br</text>
</g>

<!-- legend b -->
<rect x="231.5" y="1190" width="847" height="25.5" fill="#fff" stroke="#222" stroke-width="1.2"/>
<rect x="243.3" y="1200" width="8.3" height="6" fill="#5aaf35"/>
<rect x="309.3" y="1200" width="8.3" height="6" fill="#5b6aad"/>
<rect x="365" y="1200" width="8.3" height="6" fill="#2e5a1e"/>
<rect x="420.7" y="1200" width="8.3" height="6" fill="#2a3a6e"/>
<rect x="486" y="1200" width="8.3" height="6" fill="#7ea6dc"/>
<rect x="608.3" y="1200" width="8.3" height="6" fill="#7d5f1e"/>
<rect x="682.7" y="1200" width="8.3" height="6" fill="#f2c300"/>
<rect x="736.7" y="1200" width="8.3" height="6" fill="#f8e9a0"/>
<rect x="792.3" y="1200" width="8.3" height="6" fill="#e8832a"/>
<rect x="851" y="1200" width="8.3" height="6" fill="#f8d2ae"/>
<rect x="902.7" y="1200" width="8.3" height="6" fill="#c15f28"/>
<rect x="953.3" y="1200" width="8.3" height="6" fill="#c8102e"/>
<rect x="1006.7" y="1200" width="8.3" height="6" fill="#ef8686"/>
<path d="M1041.5 1199.5H1047.5M1044.5 1199.5V1207M1041.5 1207H1047.5" stroke="#333" fill="none"/>
<g font-size="9.5" font-weight="bold" fill="#3a3a3a" letter-spacing=".4">
<text x="260" y="1207.2">PFSAs</text><text x="322.7" y="1207.2">PFCAs</text><text x="377.7" y="1207.2">FTSAs</text><text x="435.7" y="1207.2">FTUCAs</text><text x="499.3" y="1207.2">diPAP, HFPODA</text><text x="621.7" y="1207.2">FOSAAs</text><text x="692.7" y="1207.2">FOSAs</text><text x="746.7" y="1207.2">FOSEs</text><text x="803.3" y="1207.2">FTOHs</text><text x="864.3" y="1207.2">FTIs</text><text x="915.7" y="1207.2">FIAs</text><text x="965" y="1207.2">FDIAs</text><text x="1019" y="1207.2">Br</text><text x="1052.3" y="1207.2">SD</text>
</g>
<text x="625" y="1243" font-size="13.5" font-weight="bold" fill="#111" letter-spacing=".5">Analytes</text>

<!-- pies b -->
<g font-size="8" font-weight="bold" fill="#555" letter-spacing="1">
<text x="1052.7" y="635.7">Relative</text><text x="1052.7" y="647">Composition</text>
</g>
<circle cx="1094.3" cy="694" r="39" fill="#5b6aad"/>
<path d="M1094.3 694V654.5" stroke="#fff" stroke-width="1.8"/>

<circle cx="1095" cy="814" r="39" fill="#5b6aad"/>
<path d="M1095 814L1087.56 775.72A39 39 0 0 1 1089.57 775.38Z" fill="#fff" stroke="#fff" stroke-width="1"/>
<path d="M1095 814L1092.96 775.05A39 39 0 0 1 1095.68 775.01Z" fill="#fff" stroke="#fff" stroke-width="1"/>
<path d="M1095 814L1089.57 775.38A39 39 0 0 1 1092.96 775.05Z" fill="#f0a35a" stroke="#fff" stroke-width="1"/>
<path d="M1095 814L1095.68 775.01A39 39 0 0 1 1102.44 775.72Z" fill="#5aaf35" stroke="#fff" stroke-width="1.2"/>

<g stroke="#fff" stroke-width="1.5" stroke-linejoin="round">
<path d="M1094.3 934.3L1094.61 899.3A35 35 0 0 1 1119.05 909.55Z" fill="#5aaf35"/>
<path d="M1094.3 934.3L1119.05 909.55A35 35 0 1 1 1064.95 915.24Z" fill="#5b6aad"/>
<path d="M1094.3 934.3L1064.95 915.24A35 35 0 0 1 1093.69 899.31Z" fill="#e8832a"/>

<path d="M1094.3 1065.7L1094.92 1030.21A35.5 35.5 0 0 1 1118.05 1039.32Z" fill="#5aaf35"/>
<path d="M1094.3 1065.7L1118.05 1039.32A35.5 35.5 0 1 1 1064.87 1045.85Z" fill="#5b6aad"/>
<path d="M1094.3 1065.7L1064.87 1045.85A35.5 35.5 0 0 1 1093.06 1030.22Z" fill="#e8832a"/>
</g>
</svg>
</body>
</html>
